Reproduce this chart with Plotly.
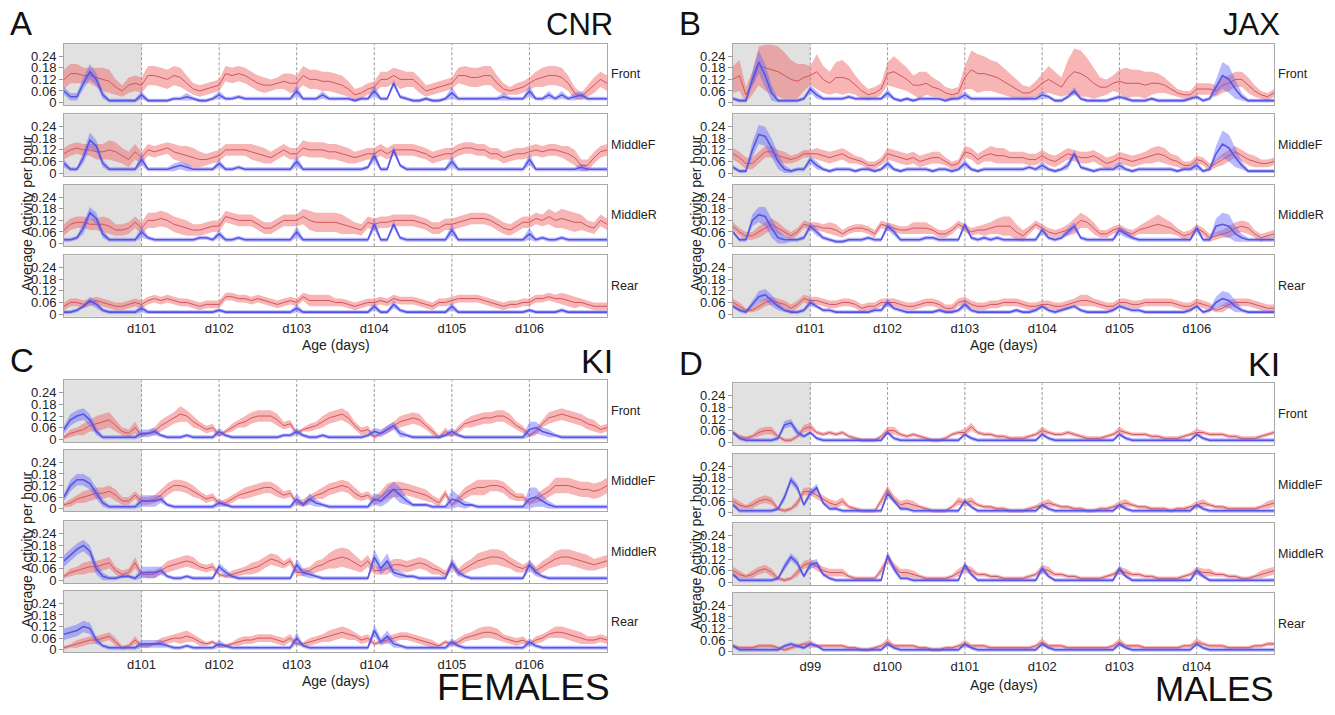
import plotly.graph_objects as go

W, H = 1335, 715

# Values are in hundredths of "activity per hour"; one value per 2-hour bin, 7 days (85 points)
# ---------------- Panel A : CNR ----------------
A_front_red = [
12,15,15,14,14,13,12,11, 8, 6, 9,10,
 9,14,14,13,12,14,13,10, 7, 6, 7, 8,
 9,15,14,15,14,12,10, 9, 9,10,11,10,
10,14,12,12,11,11,10, 9, 7, 4, 5, 7,
 8,12,12,14,12,12,12, 9, 6, 7, 8, 9,
10,14,14,13,13,14,14,10, 7, 6, 7, 8,
10,12,13,14,14,13,10, 5, 3, 6, 9,12,
10]
A_front_red_sd = [
5,5,5,4,4,5,6,6,4,3,4,4,
4,5,5,5,5,5,5,4,3,3,3,3,
3,4,4,4,4,4,4,4,3,3,4,5,
4,5,5,5,5,5,5,5,4,3,3,3,
3,4,4,4,5,4,4,4,3,3,3,3,
3,4,5,5,5,5,5,4,3,2,3,3,
3,4,5,5,5,5,4,3,2,3,4,4,
4]
A_front_blue = [
6,3,3,10,16,12,4,1,1,1,1,1,
4,1,1,1,1,2,2,3,2,1,1,2,
4,2,2,3,2,2,2,2,2,2,2,2,
6,2,2,2,4,2,2,2,2,1,2,2,
6,2,2,10,3,2,1,1,2,1,1,2,
5,2,2,2,2,2,2,2,3,2,2,2,
6,2,2,4,2,4,2,3,4,2,2,2,
2]
A_front_blue_sd = [
2,2,2,3,4,3,2,1,1,1,1,1,
2,1,1,1,1,1,1,2,1,1,1,1,
2,1,1,1,1,1,1,1,1,1,1,1,
3,1,1,1,2,1,1,1,1,1,1,1,
3,1,1,2,1,1,1,1,1,1,1,1,
3,1,1,1,1,1,1,1,2,1,1,1,
3,1,1,2,1,2,1,2,2,1,1,1,
1]
A_midF_red = [
10,12,13,12,12,11,11,12,11, 9, 7,11,
 8,12,11,12,13,11,10, 9, 8, 7, 7, 8,
 9,12,12,12,12,11,10, 9, 8,10,12,10,
10,13,12,12,12,11,11,10, 9, 8, 9,10,
10,12,10,12,12,12,12,11,10, 8, 9,10,
10,12,13,13,12,12,10,10, 8, 9,10,10,
11,12,11,12,12,11,10, 8, 4, 4, 8,11,
12]
A_midF_red_sd = [
3,3,3,3,3,4,4,5,5,4,4,4,
3,3,3,3,3,4,4,5,5,4,3,3,
3,3,3,3,3,4,4,4,3,3,3,3,
3,4,4,4,4,4,4,4,4,3,3,3,
3,3,3,3,3,3,3,3,3,3,3,3,
3,3,3,3,3,3,3,3,3,3,3,3,
3,3,3,3,3,3,4,4,3,3,3,3,
3]
A_midF_blue = [
5,2,2,8,17,14,5,2,2,2,2,2,
7,2,2,2,2,3,4,3,2,2,2,2,
5,2,2,3,2,2,2,2,2,2,2,2,
6,2,2,2,2,2,2,2,2,2,2,3,
9,2,2,12,4,2,2,2,2,2,2,2,
6,2,2,2,2,2,2,2,2,2,2,2,
7,2,2,2,2,2,2,2,3,2,2,2,
2]
A_midF_blue_sd = [
2,1,1,3,4,3,2,1,1,1,1,1,
3,1,1,1,1,2,2,2,1,1,1,1,
2,1,1,1,1,1,1,1,1,1,1,1,
3,1,1,1,1,1,1,1,1,1,1,1,
3,1,1,2,1,1,1,1,1,1,1,1,
3,1,1,1,1,1,1,1,1,1,1,1,
3,1,1,1,1,1,1,1,2,1,1,1,
1]
A_midR_red = [
 7,10,11,11,10,10,10, 9, 7, 7, 8,11,
 8,12,12,13,12,10, 9, 8, 7, 7, 8, 9,
 9,14,13,12,12,12,10, 8, 8,10,12,12,
12,14,12,11,11,11,11,10, 9, 8, 7,11,
10,11,11,12,12,12,12,11,10, 8, 8,10,
10,11,12,13,13,13,12,10, 8, 7, 9,11,
11,13,12,14,12,13,12,11,11, 9, 8,12,
10]
A_midR_red_sd = [
3,3,3,3,3,3,4,4,3,3,3,3,
3,4,4,4,4,4,4,4,3,3,3,3,
3,3,3,3,3,3,3,3,3,3,3,3,
3,4,5,5,5,5,5,5,4,3,3,3,
3,3,3,3,3,3,3,3,3,3,3,3,
3,3,3,3,3,3,3,3,3,3,3,3,
3,3,3,4,4,5,5,5,4,3,3,3,
3]
A_midR_blue = [
2,2,3,8,16,13,5,2,2,2,2,2,
6,3,2,2,2,2,2,2,2,3,3,2,
5,2,2,3,2,2,2,2,2,2,2,2,
6,2,2,2,2,2,2,2,2,2,2,2,
10,2,2,10,3,2,2,2,2,2,2,2,
7,2,2,2,2,2,2,2,2,2,2,2,
5,2,3,2,2,3,2,2,2,2,2,2,
2]
A_midR_blue_sd = [
1,1,1,3,3,3,2,1,1,1,1,1,
3,1,1,1,1,1,1,1,1,1,1,1,
2,1,1,1,1,1,1,1,1,1,1,1,
3,1,1,1,1,1,1,1,1,1,1,1,
3,1,1,2,1,1,1,1,1,1,1,1,
3,1,1,1,1,1,1,1,1,1,1,1,
3,1,1,1,1,1,1,1,1,1,1,1,
1]
A_rear_red = [
4,6,6,5,6,7,6,5,4,4,5,6,
5,7,8,7,8,7,6,6,5,4,5,5,
5,9,9,8,8,7,8,7,6,5,6,7,
6,9,7,7,7,7,6,6,5,4,5,6,
6,7,6,8,7,7,7,6,5,4,6,6,
7,8,8,8,8,7,6,5,4,5,5,6,
6,8,8,9,8,8,7,6,6,5,4,4,
4]
A_rear_red_sd = [
2,2,2,2,2,2,2,2,2,2,2,2,
2,2,2,2,2,2,2,2,2,2,2,2,
2,2,2,2,2,2,2,2,2,2,2,2,
2,2,3,3,3,3,2,2,2,2,2,2,
2,2,2,2,2,2,2,2,2,2,2,2,
2,2,2,2,2,2,2,2,2,2,2,2,
2,2,2,2,2,3,3,3,2,2,2,2,
2]
A_rear_blue = [
1,1,2,4,7,5,2,1,1,1,1,1,
3,1,1,1,1,1,1,1,1,1,1,1,
2,1,1,1,1,1,1,1,1,1,1,1,
3,1,1,1,1,1,1,1,1,1,1,1,
4,1,1,5,2,1,1,1,1,1,1,1,
4,1,1,1,1,1,1,1,1,1,1,1,
2,1,1,1,1,2,1,1,1,1,1,1,
1]
A_rear_blue_sd = [
1,1,1,1,2,2,1,1,1,1,1,1,
2,1,1,1,1,1,1,1,1,1,1,1,
1,1,1,1,1,1,1,1,1,1,1,1,
2,1,1,1,1,1,1,1,1,1,1,1,
2,1,1,2,1,1,1,1,1,1,1,1,
2,1,1,1,1,1,1,1,1,1,1,1,
1,1,1,1,1,1,1,1,1,1,1,1,
1]

# ---------------- Panel B : JAX ----------------
B_front_red = [
12,14, 4,10,19,18,17,16,14,12,11,13,
14,16,12,10,13,13,12, 9, 6, 4, 5, 7,
15,16,14,12, 9, 9,10, 8, 7, 5, 4, 5,
13,17,15,15,14,13,11, 9, 7, 5, 5, 7,
10,12,10, 8,13,16,15,13,10, 8, 8,10,
11,10,10,10, 9,10,10, 9, 7, 5, 4, 4,
 7, 7, 7, 6, 9,10,12,12, 9, 6, 4, 3,
 5]
B_front_red_sd = [
 7, 8, 4, 6,10,12,13,13,12,10, 9, 7,
 5, 9, 7, 6, 8, 9, 7, 5, 4, 3, 3, 3,
 6, 8, 7, 6, 5, 7, 6, 5, 4, 3, 3, 3,
 6,10,10, 9, 8, 8, 7, 6, 5, 4, 3, 4,
 5, 7, 6, 5, 9,12,12,10, 8, 5, 4, 4,
 6, 8, 7, 7, 7, 6, 5, 4, 3, 2, 2, 2,
 3, 3, 3, 3, 4, 4, 4, 4, 4, 3, 2, 2,
 2]
B_front_blue = [
2,1,1,12,21,14,5,1,1,1,1,2,
7,4,2,2,2,2,3,2,2,2,2,2,
5,2,1,2,1,2,2,2,2,1,2,2,
4,2,2,2,2,2,2,2,2,2,2,2,
4,3,1,1,3,6,2,1,1,1,1,2,
3,2,1,1,1,2,1,1,1,1,1,2,
3,1,2,8,14,12,7,3,1,1,1,1,
1]
B_front_blue_sd = [
1,1,1,4,6,6,4,1,1,1,1,1,
2,2,1,1,1,1,1,1,1,1,1,1,
2,1,1,1,1,1,1,1,1,1,1,1,
2,1,1,1,1,1,1,1,1,1,1,1,
2,1,1,1,1,2,1,1,1,1,1,1,
1,1,1,1,1,1,1,1,1,1,1,1,
1,1,1,4,7,7,5,2,1,1,1,1,
1]
B_midF_red = [
10, 8, 5, 5, 8,11,11, 9, 8, 7, 8,10,
10,10, 9, 8, 9,10, 8, 7, 6, 4, 4, 6,
10, 9, 8, 7, 8, 6, 7, 8, 8, 6, 4, 5,
11,10, 7, 9,10, 9, 9, 8, 8, 8, 7, 7,
 9, 7, 6, 8,10, 9, 8, 8, 9, 7, 5, 6,
 8, 7, 6, 7, 8, 9,10, 9, 7, 6, 4, 4,
 7, 6, 3, 5, 7, 9,11, 9, 7, 6, 5, 5,
 6]
B_midF_red_sd = [
3,3,3,3,3,3,3,3,3,2,2,2,
2,3,3,3,3,3,3,2,2,2,2,2,
3,3,3,3,3,3,3,3,3,2,2,2,
3,3,3,3,4,4,4,3,3,3,3,3,
3,3,3,3,3,3,3,3,3,3,3,3,
3,3,3,3,3,4,4,4,3,3,2,2,
2,2,2,2,3,3,3,3,3,3,2,2,
2]
B_midF_blue = [
3,1,1,12,20,19,13,6,2,1,2,2,
7,4,2,1,2,2,2,1,2,2,1,2,
5,2,1,2,2,2,2,1,2,2,1,2,
5,2,1,2,2,2,2,2,2,2,3,2,
4,2,1,2,4,10,3,2,1,2,2,2,
4,2,1,2,2,2,2,2,2,1,2,2,
4,1,2,10,15,13,8,4,1,1,1,1,
1]
B_midF_blue_sd = [
1,1,1,4,5,5,5,4,2,1,1,1,
2,2,1,1,1,1,1,1,1,1,1,1,
2,1,1,1,1,1,1,1,1,1,1,1,
2,1,1,1,1,1,1,1,1,1,1,1,
2,1,1,1,2,2,1,1,1,1,1,1,
2,1,1,1,1,1,1,1,1,1,1,1,
2,1,1,4,7,7,5,2,1,1,1,1,
1]
B_midR_red = [
 9, 6, 4, 4, 6, 8,10, 8, 6, 4, 6,10,
 9, 9, 8, 8, 7, 5, 7, 8, 8, 7, 5,10,
 9, 8, 7, 7, 8, 8, 8, 7, 5, 5, 7,10,
 8, 6, 7, 7, 8, 9, 9, 9, 6, 4, 7,10,
 8, 6, 5, 6, 7, 9,12,11, 8, 5, 5, 7,
 8, 6, 5, 7, 8, 9,10, 9, 8, 6, 4, 5,
 8, 6, 3, 4, 5, 6, 8, 9, 8, 5, 3, 4,
 5]
B_midR_red_sd = [
2,2,2,2,3,3,3,3,2,2,2,2,
2,2,2,3,3,2,2,2,2,2,2,2,
2,2,2,2,3,3,3,2,2,2,2,2,
2,2,2,3,3,4,5,5,4,3,2,2,
2,2,2,2,3,4,4,3,3,2,2,2,
2,2,2,2,3,4,5,4,3,2,2,2,
2,2,2,2,2,3,3,3,3,2,2,2,
2]
B_midR_blue = [
6,2,2,12,15,14,8,3,2,2,2,3,
9,6,3,2,1,1,2,2,2,3,2,2,
9,6,2,2,2,2,3,3,2,2,2,2,
10,3,2,3,2,3,2,2,2,2,2,2,
7,3,2,3,6,9,3,2,2,2,2,2,
7,5,3,2,2,2,2,2,2,2,2,2,
8,2,2,9,10,9,5,3,2,2,2,2,
2]
B_midR_blue_sd = [
1,1,1,3,4,5,5,4,2,1,1,1,
2,2,1,1,1,1,1,1,1,1,1,1,
2,2,1,1,1,1,1,1,1,1,1,1,
2,1,1,1,1,1,1,1,1,1,1,1,
2,1,1,1,2,2,1,1,1,1,1,1,
2,2,1,1,1,1,1,1,1,1,1,1,
2,1,1,4,6,6,4,2,1,1,1,1,
1]
B_rear_red = [
6,4,2,2,4,6,7,6,5,3,5,8,
7,7,6,5,5,6,6,5,3,4,4,6,
6,6,5,4,4,5,6,6,5,3,3,6,
7,5,4,4,5,5,6,6,6,5,4,4,
5,5,4,4,5,6,7,7,6,5,4,4,
6,6,5,5,6,6,6,6,6,5,4,4,
6,5,4,2,3,5,6,6,6,5,4,3,
3]
B_rear_red_sd = [
2,2,1,1,2,2,2,2,2,2,2,2,
2,2,2,2,2,2,2,2,2,2,2,2,
2,2,2,2,2,2,2,2,2,2,2,2,
2,2,2,2,2,2,2,2,2,2,2,2,
2,2,2,2,2,2,3,3,2,2,2,2,
2,2,2,2,2,2,2,2,2,2,2,2,
2,2,2,1,2,2,2,2,2,2,2,2,
2]
B_rear_blue = [
4,2,1,5,9,10,7,4,2,1,1,2,
6,4,2,2,1,1,1,1,1,1,2,2,
6,3,2,1,1,1,1,1,2,1,1,2,
5,2,1,1,1,1,1,1,2,1,1,2,
4,2,1,2,3,4,2,1,1,1,1,2,
4,3,2,2,1,1,1,1,1,1,1,2,
4,1,2,6,8,7,4,2,1,1,1,1,
1]
B_rear_blue_sd = [
1,1,1,2,3,3,3,2,1,1,1,1,
2,1,1,1,1,1,1,1,1,1,1,1,
2,1,1,1,1,1,1,1,1,1,1,1,
2,1,1,1,1,1,1,1,1,1,1,1,
1,1,1,1,1,1,1,1,1,1,1,1,
1,1,1,1,1,1,1,1,1,1,1,1,
1,1,1,3,4,4,3,1,1,1,1,1,
1]

# ---------------- Panel C : KI females ----------------
C_front_red = [
 1, 3, 4, 5, 7, 8, 9,10, 7, 4, 3, 6,
 2, 3, 4, 7, 9,11,13,12, 9, 7, 5, 6,
 2, 4, 6, 8, 9,11,12,12,12,10, 7, 8,
 3, 5, 6, 7, 9,11,12,13,11, 7, 4, 5,
 1, 3, 5, 7, 9,10,11,10, 7, 4, 1, 4,
 2, 5, 8, 9,10,11,11,12,12,10, 7, 5,
 2, 4, 8,11,12,13,12,11,10, 8, 7, 5,
 6]
C_front_red_sd = [
1,2,2,3,3,4,4,4,3,2,2,3,
1,1,2,3,3,3,4,3,3,2,2,2,
1,1,2,2,3,3,3,3,3,3,2,2,
1,1,2,2,3,3,3,3,3,2,2,2,
1,1,2,2,3,3,3,3,2,2,1,2,
1,2,2,3,3,3,3,3,3,3,2,2,
1,2,2,3,3,3,3,3,3,3,3,2,
2]
C_front_blue = [
5,10,12,13,10,4,1,1,1,1,1,1,
3,3,4,2,1,1,1,2,1,1,1,1,
4,2,1,1,1,1,1,1,1,1,2,2,
4,2,1,1,2,1,1,1,1,1,1,2,
4,3,5,7,3,2,1,1,1,1,1,2,
4,2,1,1,1,1,1,1,1,1,1,1,
5,6,4,3,2,1,1,1,1,1,1,1,
1]
C_front_blue_sd = [
2,3,3,3,3,2,1,1,1,1,1,1,
2,2,2,1,1,1,1,1,1,1,1,1,
2,1,1,1,1,1,1,1,1,1,1,1,
2,1,1,1,1,1,1,1,1,1,1,1,
2,2,2,2,2,1,1,1,1,1,1,1,
2,1,1,1,1,1,1,1,1,1,1,1,
4,3,2,2,1,1,1,1,1,1,1,1,
1]
C_midF_red = [
 2, 3, 5, 6, 7, 8, 8, 9, 7, 4, 4, 7,
 4, 4, 5, 7,10,12,12,11, 9, 7, 5, 6,
 3, 3, 5, 7, 8, 9,10,11,11, 9, 7, 8,
 3, 3, 5, 7, 8,10,11,12,11, 8, 6, 7,
 4, 6, 9,10,10,10, 9, 8, 7, 5, 3, 8,
 2, 5, 8,10,11,11,12,12,11, 8, 6, 6,
 3, 5, 7, 9,12,12,12,11,10,10, 9,10,
12]
C_midF_red_sd = [
1,2,2,3,3,3,3,3,3,2,2,2,
2,2,2,3,3,3,3,3,3,2,2,2,
1,2,2,2,3,3,3,3,3,3,2,2,
1,2,2,2,3,3,3,3,3,3,2,2,
2,3,4,4,4,3,3,3,3,2,2,2,
1,2,3,3,4,4,3,3,3,3,2,2,
1,2,3,3,4,4,4,4,4,4,4,4,
4]
C_midF_blue = [
6,12,15,15,13,8,3,1,1,1,1,1,
4,4,4,5,2,1,1,1,1,1,1,1,
3,2,1,1,1,1,1,1,1,1,1,1,
5,2,5,3,2,1,1,1,1,1,1,1,
5,4,7,10,7,4,2,2,2,1,1,1,
5,4,2,2,1,1,1,1,1,1,1,1,
5,6,4,2,1,1,1,1,1,1,1,1,
1]
C_midF_blue_sd = [
2,3,3,3,3,3,2,1,1,1,1,1,
3,3,3,2,1,1,1,1,1,1,1,1,
2,1,1,1,1,1,1,1,1,1,1,1,
3,1,3,2,1,1,1,1,1,1,1,1,
3,3,4,4,4,2,1,1,1,1,1,1,
5,3,2,1,1,1,1,1,1,1,1,1,
6,5,3,2,1,1,1,1,1,1,1,1,
1]
C_midR_red = [
 2, 4, 5, 6, 7, 7, 8, 9, 5, 3, 4, 9,
 3, 3, 3, 5, 7, 8, 9,10, 9, 7, 6, 7,
 3, 2, 3, 4, 5, 6, 7, 9,11,10, 8,10,
 4, 4, 5, 7, 8,10,11,12,11, 9, 7,10,
 5, 5, 6, 8, 8, 7, 8, 9, 8, 6, 5, 3,
 8, 4, 6, 8,10,11,12,12,11, 9, 7, 6,
 8, 5, 7, 9,11,12,12,11,10, 9, 8, 9,
10]
C_midR_red_sd = [
1,2,2,3,3,3,3,3,2,2,2,3,
1,2,2,2,3,3,3,3,3,2,2,2,
1,1,2,2,2,3,3,3,3,3,2,2,
2,2,2,3,3,4,5,5,5,4,3,3,
2,2,3,3,3,3,3,3,3,3,2,2,
2,2,3,3,4,4,4,4,4,3,3,2,
2,2,3,3,4,4,4,4,4,4,3,3,
3]
C_midR_blue = [
10,13,16,18,15,6,2,1,1,2,2,1,
4,4,4,5,2,1,1,2,1,1,1,1,
7,4,2,1,1,1,1,1,1,1,1,1,
8,4,3,2,1,1,1,1,1,1,1,1,
12,6,10,4,3,2,2,1,1,1,1,1,
9,4,2,1,1,1,1,1,1,1,1,1,
8,4,2,1,1,1,1,1,1,1,1,1,
1]
C_midR_blue_sd = [
3,3,3,3,3,3,2,1,1,1,1,1,
3,3,3,2,1,1,1,1,1,1,1,1,
2,2,1,1,1,1,1,1,1,1,1,1,
3,2,2,1,1,1,1,1,1,1,1,1,
4,3,4,2,2,1,1,1,1,1,1,1,
3,2,1,1,1,1,1,1,1,1,1,1,
3,2,1,1,1,1,1,1,1,1,1,1,
1]
C_rear_red = [
1,2,3,4,5,5,6,7,4,1,2,5,
2,2,3,4,5,6,6,7,6,4,3,4,
2,2,3,4,5,5,6,6,6,5,4,6,
3,3,4,5,6,7,8,9,8,7,5,6,
3,4,5,6,7,7,6,5,4,3,2,4,
3,4,6,7,8,9,9,8,6,5,4,5,
3,5,6,8,9,9,8,7,6,5,5,6,
5]
C_rear_red_sd = [
1,1,2,2,2,2,2,2,2,1,1,2,
1,1,1,2,2,2,3,3,2,2,1,1,
1,1,1,2,2,2,2,2,2,2,2,2,
1,1,2,2,2,3,3,3,3,2,2,2,
1,1,2,2,2,2,2,2,2,2,1,1,
1,2,2,2,3,3,3,3,2,2,2,2,
1,2,2,2,3,3,3,3,3,2,2,2,
2]
C_rear_blue = [
8,9,10,12,11,5,2,1,1,1,1,1,
3,3,3,3,2,1,1,2,1,1,1,1,
3,2,1,1,1,1,1,1,1,1,1,1,
6,2,1,1,1,1,1,1,1,1,1,1,
10,4,7,3,2,1,1,1,1,1,1,1,
4,2,1,1,1,1,1,1,1,1,1,1,
4,2,1,1,1,1,1,1,1,1,1,1,
1]
C_rear_blue_sd = [
3,3,3,3,3,2,1,1,1,1,1,1,
2,2,2,2,1,1,1,1,1,1,1,1,
2,1,1,1,1,1,1,1,1,1,1,1,
3,1,1,1,1,1,1,1,1,1,1,1,
3,2,3,2,1,1,1,1,1,1,1,1,
2,1,1,1,1,1,1,1,1,1,1,1,
2,1,1,1,1,1,1,1,1,1,1,1,
1]

# ---------------- Panel D : KI males ----------------
D_front_red = [
5,3,2,3,5,6,6,3,1,1,3,7,
8,5,4,5,4,5,3,2,1,1,1,3,
6,6,4,3,4,3,2,1,1,2,4,5,
5,8,5,4,4,3,3,2,2,2,3,4,
6,5,4,4,5,4,3,2,2,2,3,4,
6,5,4,4,4,3,3,2,2,2,3,4,
5,5,4,4,4,3,3,2,2,2,3,4,
5]
D_front_red_sd = [
1,1,1,1,2,2,2,1,1,1,1,2,
2,1,1,1,1,1,1,1,1,1,1,1,
2,2,1,1,1,1,1,1,1,1,1,1,
2,2,1,1,1,1,1,1,1,1,1,1,
2,1,1,1,1,1,1,1,1,1,1,1,
2,1,1,1,1,1,1,1,1,1,1,1,
2,1,1,1,1,1,1,1,1,1,1,1,
1]
D_front_blue = [
5,2,1,1,1,1,1,2,9,10,5,3,
5,2,1,1,1,1,1,1,1,1,1,1,
5,2,1,1,1,1,1,1,1,1,1,1,
4,2,1,1,1,1,1,1,1,1,1,1,
4,2,1,1,1,1,1,1,1,1,1,1,
4,2,1,1,1,1,1,1,1,1,1,1,
4,2,1,1,1,1,1,1,1,1,1,1,
1]
D_front_blue_sd = [
1,1,1,1,1,1,1,1,2,2,2,1,
1,1,1,1,1,1,1,1,1,1,1,1,
1,1,1,1,1,1,1,1,1,1,1,1,
1,1,1,1,1,1,1,1,1,1,1,1,
1,1,1,1,1,1,1,1,1,1,1,1,
1,1,1,1,1,1,1,1,1,1,1,1,
1,1,1,1,1,1,1,1,1,1,1,1,
1]
D_midF_red = [
 6, 4, 3, 4, 6, 7, 6, 2, 1, 2, 5,11,
11, 9, 7, 5, 4, 6, 3, 2, 1, 1, 1, 6,
12, 7, 4, 5, 4, 3, 2, 1, 1, 1, 3, 6,
 5, 6, 4, 3, 3, 2, 2, 1, 1, 1, 2, 3,
 4, 5, 4, 3, 3, 2, 2, 1, 1, 2, 2, 3,
 4, 5, 4, 3, 3, 2, 2, 2, 1, 2, 2, 3,
 4, 5, 4, 3, 3, 2, 2, 2, 2, 2, 3, 4,
 5]
D_midF_red_sd = [
2,2,1,2,2,2,2,1,1,1,2,2,
2,2,2,2,2,2,1,1,1,1,1,2,
2,2,2,2,2,1,1,1,1,1,1,2,
2,2,1,1,1,1,1,1,1,1,1,1,
2,2,1,1,1,1,1,1,1,1,1,1,
2,2,1,1,1,1,1,1,1,1,1,1,
2,2,1,1,1,1,1,1,1,1,1,2,
2]
D_midF_blue = [
 4, 1, 1, 1, 1, 1, 1, 2, 8,17,13, 4,
10,13, 5, 2, 2, 1, 1, 1, 1, 1, 1, 1,
10, 6, 2, 2, 1, 1, 1, 1, 1, 1, 1, 1,
 6, 3, 1, 1, 1, 1, 1, 1, 1, 1, 1, 1,
 4, 2, 1, 1, 1, 1, 1, 1, 1, 1, 1, 1,
 4, 2, 1, 1, 1, 1, 1, 1, 1, 1, 1, 1,
 4, 2, 1, 1, 1, 1, 1, 1, 1, 1, 1, 1,
 1]
D_midF_blue_sd = [
1,1,1,1,1,1,1,1,2,2,2,1,
2,2,1,1,1,1,1,1,1,1,1,1,
2,1,1,1,1,1,1,1,1,1,1,1,
1,1,1,1,1,1,1,1,1,1,1,1,
1,1,1,1,1,1,1,1,1,1,1,1,
1,1,1,1,1,1,1,1,1,1,1,1,
1,1,1,1,1,1,1,1,1,1,1,1,
1]
D_midR_red = [
 6, 4, 3, 4, 6, 7, 5, 2, 1, 2, 5, 9,
10, 8, 6, 5, 5, 5, 3, 2, 2, 2, 2, 6,
12, 8, 5, 5, 4, 3, 2, 2, 2, 2, 3, 5,
 7, 6, 4, 4, 3, 3, 2, 2, 2, 2, 3, 4,
 7, 6, 4, 4, 3, 3, 2, 2, 2, 2, 3, 4,
 6, 5, 4, 4, 3, 3, 2, 2, 2, 2, 3, 4,
 6, 5, 5, 4, 4, 3, 3, 2, 2, 3, 4, 5,
 6]
D_midR_red_sd = [
2,2,1,2,2,2,2,1,1,1,2,2,
2,2,2,2,2,2,1,1,1,1,1,2,
2,2,2,2,2,1,1,1,1,1,1,2,
2,2,1,1,1,1,1,1,1,1,1,1,
2,2,1,1,1,1,1,1,1,1,1,1,
2,2,1,1,1,1,1,1,1,1,1,1,
2,2,2,1,1,1,1,1,1,1,2,2,
2]
D_midR_blue = [
 4, 1, 1, 1, 1, 1, 1, 2, 8,13,10, 3,
 9,10, 4, 2, 1, 1, 1, 1, 1, 1, 1, 1,
14, 7, 2, 2, 1, 1, 1, 1, 1, 1, 1, 1,
 9, 4, 1, 1, 1, 1, 1, 1, 1, 1, 1, 1,
 7, 3, 1, 1, 1, 1, 1, 1, 1, 1, 1, 1,
 7, 3, 1, 1, 1, 1, 1, 1, 1, 1, 1, 1,
 6, 3, 1, 1, 1, 1, 1, 1, 1, 1, 1, 1,
 1]
D_midR_blue_sd = [
1,1,1,1,1,1,1,1,2,2,2,1,
2,2,1,1,1,1,1,1,1,1,1,1,
2,2,1,1,1,1,1,1,1,1,1,1,
2,1,1,1,1,1,1,1,1,1,1,1,
2,1,1,1,1,1,1,1,1,1,1,1,
2,1,1,1,1,1,1,1,1,1,1,1,
2,1,1,1,1,1,1,1,1,1,1,1,
1]
D_rear_red = [
3,2,2,2,3,3,3,2,1,2,3,4,
4,3,3,3,3,3,2,2,1,1,2,3,
5,3,3,3,3,2,2,1,1,2,2,3,
4,3,3,3,2,2,2,2,2,2,2,3,
5,3,3,3,2,2,2,2,2,2,2,3,
5,3,3,3,2,2,2,2,2,2,3,3,
5,4,3,3,3,2,2,2,2,3,3,4,
4]
D_rear_red_sd = [
1,1,1,1,1,1,1,1,1,1,1,1,
2,1,1,1,1,1,1,1,1,1,1,1,
2,1,1,1,1,1,1,1,1,1,1,1,
2,1,1,1,1,1,1,1,1,1,1,1,
2,1,1,1,1,1,1,1,1,1,1,1,
2,1,1,1,1,1,1,1,1,1,1,1,
2,1,1,1,1,1,1,1,1,1,1,1,
1]
D_rear_blue = [
3,1,1,1,1,1,1,1,3,4,3,2,
4,3,1,1,1,1,1,1,1,1,1,1,
4,2,1,1,1,1,1,1,1,1,1,1,
4,2,1,1,1,1,1,1,1,1,1,1,
4,2,1,1,1,1,1,1,1,1,1,1,
4,2,1,1,1,1,1,1,1,1,1,1,
4,2,1,1,1,1,1,1,1,1,1,1,
1]
D_rear_blue_sd = [
1,1,1,1,1,1,1,1,1,1,1,1,
1,1,1,1,1,1,1,1,1,1,1,1,
1,1,1,1,1,1,1,1,1,1,1,1,
1,1,1,1,1,1,1,1,1,1,1,1,
1,1,1,1,1,1,1,1,1,1,1,1,
1,1,1,1,1,1,1,1,1,1,1,1,
1,1,1,1,1,1,1,1,1,1,1,1,
1]

ROW_NAMES = ["Front", "MiddleF", "MiddleR", "Rear"]
Y_TICKS = [0, 0.06, 0.12, 0.18, 0.24]
Y_TICK_TEXT = ["0", "0.06", "0.12", "0.18", "0.24"]

PANELS = [
    dict(letter="A", name="CNR", start=100, xdom=(64, 607), xtitle_y=347,
         rows=[(44, 106), (115, 177), (186, 248), (257, 319)],
         data=[(A_front_red, A_front_red_sd, A_front_blue, A_front_blue_sd),
               (A_midF_red, A_midF_red_sd, A_midF_blue, A_midF_blue_sd),
               (A_midR_red, A_midR_red_sd, A_midR_blue, A_midR_blue_sd),
               (A_rear_red, A_rear_red_sd, A_rear_blue, A_rear_blue_sd)]),
    dict(letter="B", name="JAX", start=100, xdom=(733, 1274), xtitle_y=347,
         rows=[(44, 106), (115, 177), (186, 248), (257, 319)],
         data=[(B_front_red, B_front_red_sd, B_front_blue, B_front_blue_sd),
               (B_midF_red, B_midF_red_sd, B_midF_blue, B_midF_blue_sd),
               (B_midR_red, B_midR_red_sd, B_midR_blue, B_midR_blue_sd),
               (B_rear_red, B_rear_red_sd, B_rear_blue, B_rear_blue_sd)]),
    dict(letter="C", name="KI", start=100, xdom=(64, 607), xtitle_y=686,
         rows=[(383, 445), (453, 515), (525, 587), (595, 657)],
         data=[(C_front_red, C_front_red_sd, C_front_blue, C_front_blue_sd),
               (C_midF_red, C_midF_red_sd, C_midF_blue, C_midF_blue_sd),
               (C_midR_red, C_midR_red_sd, C_midR_blue, C_midR_blue_sd),
               (C_rear_red, C_rear_red_sd, C_rear_blue, C_rear_blue_sd)]),
    dict(letter="D", name="KI", start=98, xdom=(733, 1274), xtitle_y=690,
         rows=[(386, 448), (457, 519), (527, 589), (597, 659)],
         data=[(D_front_red, D_front_red_sd, D_front_blue, D_front_blue_sd),
               (D_midF_red, D_midF_red_sd, D_midF_blue, D_midF_blue_sd),
               (D_midR_red, D_midR_red_sd, D_midR_blue, D_midR_blue_sd),
               (D_rear_red, D_rear_red_sd, D_rear_blue, D_rear_blue_sd)]),
]

FONT = "Liberation Sans, Arial, Helvetica, sans-serif"
RED_BAND = "rgba(238,100,100,0.48)"
RED_LINE = "rgb(208,86,94)"
BLUE_BAND = "rgba(100,100,250,0.45)"
BLUE_LINE = "rgb(86,86,226)"
GRAY = "#e1e1e1"


def px_x(v):
    return v / W


def px_y(v):
    return 1 - v / H


fig = go.Figure()
layout = dict(width=W, height=H, margin=dict(l=0, r=0, t=0, b=0),
              paper_bgcolor="white", plot_bgcolor="white", showlegend=False,
              font=dict(family=FONT, color="#222"))
shapes = []
annotations = []

k = 0
for p in PANELS:
    start = p["start"]
    n = len(p["data"][0][0])
    xs = [start + i * 7 / (n - 1) for i in range(n)]
    ticks = list(range(start + 1, start + 7))
    for r, (top, bot) in enumerate(p["rows"]):
        k += 1
        xa = "x" if k == 1 else f"x{k}"
        ya = "y" if k == 1 else f"y{k}"
        red, red_sd, blue, blue_sd = p["data"][r]
        for arr in (red, red_sd, blue, blue_sd):
            assert len(arr) == n, (p["letter"], r, len(arr))
        for mean, sd, band_c, line_c, lw in ((red, red_sd, RED_BAND, RED_LINE, 1.0),
                                             (blue, blue_sd, BLUE_BAND, BLUE_LINE, 1.6)):
            up = [(m + s) / 100 for m, s in zip(mean, sd)]
            lo = [max(m - s, 0) / 100 for m, s in zip(mean, sd)]
            fig.add_trace(go.Scatter(x=xs + xs[::-1], y=up + lo[::-1], fill="toself",
                                     fillcolor=band_c, line=dict(width=0), mode="lines",
                                     hoverinfo="skip", xaxis=xa, yaxis=ya))
            fig.add_trace(go.Scatter(x=xs, y=[m / 100 for m in mean], mode="lines",
                                     line=dict(color=line_c, width=lw), xaxis=xa, yaxis=ya))
        last = (r == 3)
        layout["xaxis" if k == 1 else f"xaxis{k}"] = dict(
            domain=[px_x(p["xdom"][0]), px_x(p["xdom"][1])], anchor=ya,
            range=[start, start + 7], showgrid=False, zeroline=False,
            showline=True, linecolor="#a8a8a8", linewidth=1, mirror=True,
            tickvals=ticks, ticktext=[f"d{t}" for t in ticks], ticks="",
            showticklabels=last, tickfont=dict(size=13, color="#222"))
        layout["yaxis" if k == 1 else f"yaxis{k}"] = dict(
            domain=[px_y(bot), px_y(top)], anchor=xa, range=[-0.014, 0.305],
            showgrid=False, zeroline=False, showline=True, linecolor="#a8a8a8",
            linewidth=1, mirror=True, tickvals=Y_TICKS, ticktext=Y_TICK_TEXT,
            ticks="outside", ticklen=4, tickcolor="#999", tickfont=dict(size=13, color="#222"))
        shapes.append(dict(type="rect", xref=xa, yref=f"{ya} domain", x0=start, x1=start + 1,
                           y0=0, y1=1, fillcolor=GRAY, line=dict(width=0), layer="below"))
        for t in ticks:
            shapes.append(dict(type="line", xref=xa, yref=f"{ya} domain", x0=t, x1=t, y0=0, y1=1,
                               line=dict(color="#9a9a9a", width=1, dash="3px,2px"), layer="below"))
        annotations.append(dict(text=ROW_NAMES[r], xref="paper", yref="paper",
                                x=px_x(p["xdom"][1] + 2), y=px_y((top + bot) / 2),
                                xanchor="left", yanchor="middle", showarrow=False,
                                font=dict(size=12.5, color="#222")))
    # panel titles
    x0, x1 = p["xdom"]
    rows = p["rows"]
    annotations.append(dict(text=p["letter"], xref="paper", yref="paper",
                            x=px_x(x0 - 56), y=px_y(rows[0][0] - 20), xanchor="left",
                            yanchor="middle", showarrow=False, font=dict(size=33, color="#111")))
    annotations.append(dict(text=p["name"], xref="paper", yref="paper",
                            x=px_x(x1 + 8), y=px_y(rows[0][0] - 19), xanchor="right",
                            yanchor="middle", showarrow=False,
                            font=dict(size=31 if p["name"] != "KI" else 34, color="#111")))
    annotations.append(dict(text="Age (days)", xref="paper", yref="paper",
                            x=px_x((x0 + x1) / 2), y=px_y(p["xtitle_y"]), xanchor="center",
                            yanchor="middle", showarrow=False, font=dict(size=14, color="#222")))
    annotations.append(dict(text="Average Activity per hour", xref="paper", yref="paper",
                            x=px_x(x0 - 37), y=px_y((rows[0][0] + rows[3][1]) / 2 + 33),
                            xanchor="center", yanchor="middle", textangle=-90, showarrow=False,
                            font=dict(size=14, color="#222")))

annotations.append(dict(text="FEMALES", xref="paper", yref="paper", x=px_x(612), y=0,
                        xanchor="right", yanchor="bottom", showarrow=False,
                        font=dict(size=37, color="#111")))
annotations.append(dict(text="MALES", xref="paper", yref="paper", x=px_x(1276), y=0,
                        xanchor="right", yanchor="bottom", showarrow=False,
                        font=dict(size=35, color="#111")))

layout["shapes"] = shapes
layout["annotations"] = annotations
fig.update_layout(**layout)
fig.write_html("out.html", config={"displayModeBar": False},
               post_script="document.body.style.margin='0';document.body.style.overflow='hidden';")
